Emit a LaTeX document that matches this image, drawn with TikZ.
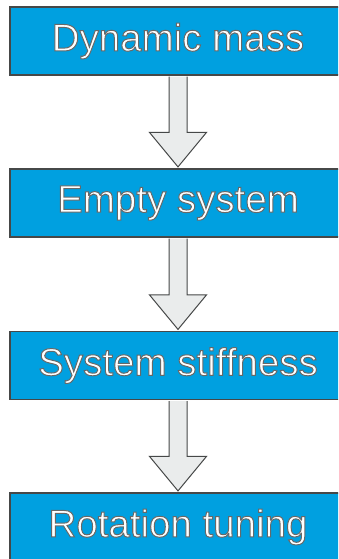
\documentclass[tikz,border=0pt]{standalone}
\usepackage{fontspec}
\setmainfont{Liberation Sans}
\usetikzlibrary{calc}

\definecolor{boxblue}{RGB}{0,160,224}
\definecolor{arrowgray}{RGB}{234,236,236}
\definecolor{edgegray}{RGB}{70,72,72}

% white letters with a grey outline (fill and stroke text render mode)
\newcommand{\steptext}[1]{{\color{white}\special{pdf:literal 2 Tr 1 w 0.4 0.41 0.41 RG}#1\special{pdf:literal 0 Tr}}}

\begin{document}
\begin{tikzpicture}[x=1pt,y=1pt,
  stepbox/.style={draw=edgegray,line width=1.2pt,fill=boxblue,minimum width=336pt,minimum height=68pt,
    inner sep=0pt,font=\fontsize{38.5}{42}\selectfont},
  flowarrow/.style={draw=edgegray,line width=1pt,fill=arrowgray,line join=miter}]
  \clip (0,0) rectangle (338,559);
  \fill[white] (0,0) rectangle (338,559);
  \node[stepbox] (dyn) at (178,518) {\steptext{Dynamic mass}};
  \node[stepbox] (empty) at (178,356) {\steptext{Empty system}};
  \node[stepbox] (stiff) at (178,193.5) {\steptext{System stiffness}};
  \node[stepbox] (rot) at (178,32) {\steptext{Rotation tuning}};
  % block arrows between the steps
  \foreach \from/\to in {dyn/empty,empty/stiff,stiff/rot}
    \draw[flowarrow] ($(\from.south)+(-9,-1)$) -- ($(\to.north)+(-9,36)$) -- ($(\to.north)+(-28.5,36)$)
      -- ($(\to.north)+(0,1.5)$) -- ($(\to.north)+(28.5,36)$) -- ($(\to.north)+(9,36)$)
      -- ($(\from.south)+(9,-1)$);
\end{tikzpicture}
\end{document}
